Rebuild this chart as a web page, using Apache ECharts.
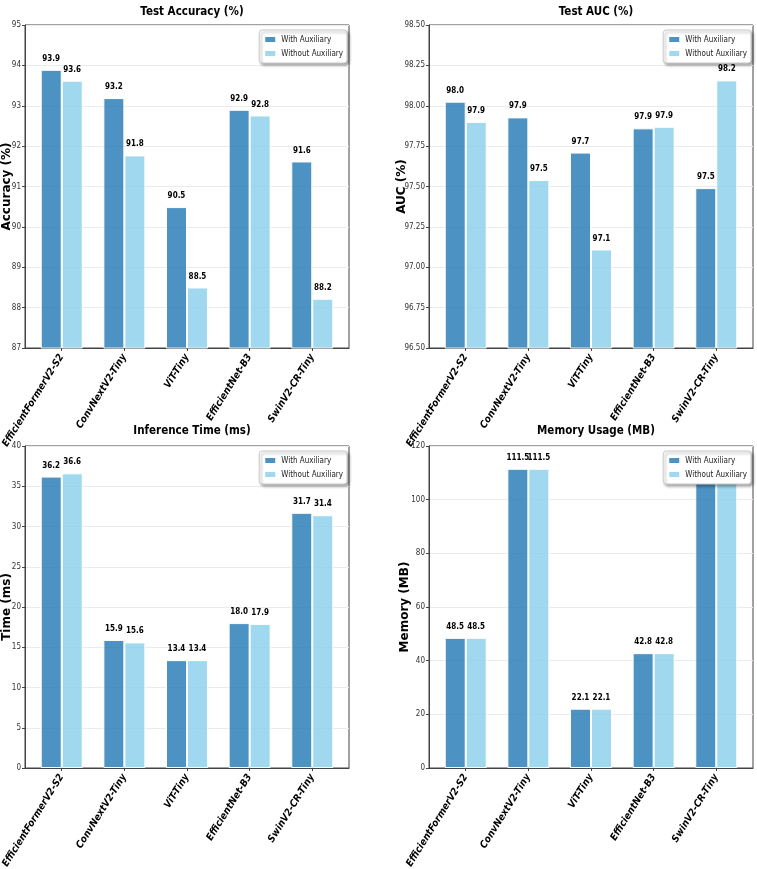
<!DOCTYPE html>
<html><head><meta charset="utf-8">
<script src="https://cdn.jsdelivr.net/npm/echarts@6/dist/echarts.min.js"></script>
<style>html,body{margin:0;padding:0;background:#fff}#c{width:757px;height:869px}</style>
</head><body><div id="c"></div>
<script>
const categories = ['EfficientFormerV2-S2','ConvNextV2-Tiny','ViT-Tiny','EfficientNet-B3','SwinV2-CR-Tiny'];
const seriesNames = ['With Auxiliary','Without Auxiliary'];
const accWith = [93.89, 93.19, 90.49, 92.90, 91.62];
const accWithout = [93.62, 91.77, 88.50, 92.76, 88.22];
const aucWith = [98.025, 97.928, 97.71, 97.86, 97.49];
const aucWithout = [97.90, 97.54, 97.11, 97.87, 98.157];
const timeWith = [36.2, 15.9, 13.4, 18.0, 31.7];
const timeWithout = [36.6, 15.6, 13.4, 17.9, 31.4];
const memWith = [48.5, 111.5, 22.1, 42.8, 110.0];
const memWithout = [48.5, 111.5, 22.1, 42.8, 110.0];
const panelTitles = ['Test Accuracy (%)','Test AUC (%)','Inference Time (ms)','Memory Usage (MB)'];
const yNames = ['Accuracy (%)','AUC (%)','Time (ms)','Memory (MB)'];
const yTicks = [[87,95,1],[96.5,98.5,0.25],[0,40,5],[0,120,20]];

const panels = [
  {w:accWith, wo:accWithout, dec:0, gap:12},
  {w:aucWith, wo:aucWithout, dec:2, gap:21},
  {w:timeWith, wo:timeWithout, dec:0, gap:12},
  {w:memWith, wo:memWithout, dec:0, gap:18}
];
const boxes = [
  {left:25, top:25, width:324, height:323},
  {left:429, top:25, width:324, height:323},
  {left:25, top:446, width:324, height:322},
  {left:429, top:446, width:324, height:322}
];
const pad = 5.4; // matplotlib x-margin beyond the category band
const colors = ['rgba(31,119,180,0.8)','rgba(135,206,235,0.8)'];
const narrow = '"Liberation Sans Narrow", "DejaVu Sans Condensed", sans-serif';
const axisCol = '#444';

const option = {animation:false, backgroundColor:'#fff', title:[], grid:[], xAxis:[], yAxis:[], series:[], legend:[]};
panels.forEach((p,i)=>{
  const b = boxes[i];
  const t = yTicks[i];
  const gF = option.grid.length;
  option.grid.push({left:b.left, top:b.top, width:b.width, height:b.height, show:true, borderColor:axisCol, borderWidth:1,
    backgroundColor:'transparent', containLabel:false, outerBoundsMode:'none'});
  option.grid.push({left:b.left+pad, top:b.top, width:b.width-2*pad, height:b.height, show:false,
    containLabel:false, outerBoundsMode:'none'});
  option.title.push({text:panelTitles[i], left:b.left + b.width/2, textAlign:'center', top:b.top - (i<2 ? 24 : 26),
    textStyle:{fontFamily:narrow, fontWeight:'bold', fontSize:11.5, color:'#000'}});
  const xF = option.xAxis.length;
  option.xAxis.push({type:'category', gridIndex:gF, data:categories, axisLine:{show:true, lineStyle:{color:axisCol}},
    axisTick:{show:false}, axisLabel:{show:false}, splitLine:{show:false}});
  option.xAxis.push({type:'category', gridIndex:gF+1, data:categories, boundaryGap:true,
    axisLine:{show:false}, axisTick:{show:true, alignWithLabel:true, length:3, lineStyle:{color:axisCol}},
    axisLabel:{rotate:58, interval:0, margin:7, fontFamily:narrow, fontWeight:'bold', fontStyle:'italic', fontSize:10, color:'#000'}});
  const yF = option.yAxis.length;
  option.yAxis.push({type:'value', gridIndex:gF, min:t[0], max:t[1], interval:t[2],
    name:yNames[i], nameLocation:'middle', nameGap:p.gap, nameRotate:90, nameMoveOverlap:false,
    nameTextStyle:{fontFamily:'"DejaVu Sans", sans-serif', fontWeight:'bold', fontSize:12, color:'#000'},
    axisLine:{show:true, lineStyle:{color:axisCol}}, axisTick:{show:true, length:3, lineStyle:{color:axisCol}},
    axisLabel:{margin:4, fontFamily:narrow, fontSize:8, color:'#333', formatter:v=>v.toFixed(p.dec)},
    splitLine:{show:true, lineStyle:{color:'#ebebeb', width:1}}});
  option.yAxis.push({type:'value', gridIndex:gF+1, min:t[0], max:t[1], interval:t[2],
    axisLine:{show:false}, axisTick:{show:false}, axisLabel:{show:false}, splitLine:{show:false}});
  [p.w, p.wo].forEach((d,k)=>{
    option.series.push({type:'bar', name:seriesNames[k], xAxisIndex:xF+1, yAxisIndex:yF+1, data:d,
      barWidth:21, barGap:'0%', itemStyle:{color:colors[k], borderColor:'#fff', borderWidth:1},
      label:{show:true, position:'top', distance:7, formatter:o=>o.value.toFixed(1), fontFamily:narrow, fontWeight:'bold', fontSize:8, color:'#000'}});
  });
  option.legend.push({data:seriesNames, orient:'vertical', right:757 - (b.left + b.width) + 2, top:b.top+5,
    itemWidth:12, itemHeight:7, itemGap:5, padding:[5,4,5,4], icon:'rect',
    backgroundColor:'#fff', borderColor:'#ccc', borderWidth:1, borderRadius:3,
    shadowBlur:3, shadowColor:'rgba(0,0,0,0.35)', shadowOffsetX:2, shadowOffsetY:2,
    textStyle:{fontFamily:narrow, fontSize:8, color:'#222'}, selectedMode:false, z:10});
});
echarts.init(document.getElementById('c')).setOption(option);
</script></body></html>
